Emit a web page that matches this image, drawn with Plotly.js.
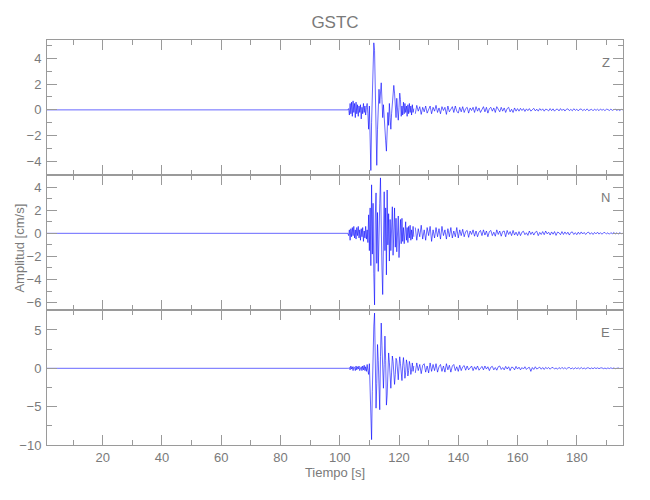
<!DOCTYPE html>
<html>
<head>
<meta charset="utf-8">
<script src="https://cdn.plot.ly/plotly-3.0.1.min.js"></script>
<style>html,body{margin:0;padding:0;background:#fff}#chart{width:650px;height:500px}</style>
</head>
<body>
<div id="chart"></div>
<script>
// ---- data ----
const title = "GSTC";
const components = ["Z", "N", "E"];
const timeStart = 1.2;      // s, first sample
const timeEnd = 195.6;      // s, last sample
const preEventTimes = [1.2, 102.5];
const preEventValues = [0, 0];

// strong-motion part: sampled every 0.25 s from 102.5 s to 125 s
const burstStart = 102.5, burstStep = 0.25;
const burstZ = [
 0,0,0.1,-0.4,0.5,-0.3,0.6,-0.5,0.7,-0.2,
 0.5,-0.6,0.6,-0.3,0.4,-0.5,0.3,-0.2,0.4,-0.7,
 0.2,-0.3,0.5,-0.2,0.3,-0.4,0.2,0.5,-0.3,-1.5,
 0.3,-2.5,-4.7,-1.0,1.5,3.8,5.2,4.6,1.0,-2.5,
 -4.3,-1.5,0.8,1.6,0.5,1.8,2.1,0.8,-0.6,0.4,
 -0.9,-1.8,-2.4,-3.2,-1.3,-0.2,-1.2,0.5,-0.6,-1.5,
 -0.3,0.4,1.2,1.9,1.3,0.2,-0.6,0.9,0.1,-0.8,
 0.2,1.3,0.8,-0.5,0.3,-0.4,0.6,-0.3,0.5,-0.2,
 0.3,-0.5,0.4,-0.3,0.5,-0.2,0.3,-0.4,0.4,-0.2,
 0.1];
const burstN = [
 0,0,-0.2,0.3,-0.6,0.4,-0.3,0.5,-0.2,0.6,
 -0.4,0.3,-0.5,0.5,-0.2,0.6,-0.4,0.3,-0.6,0.4,
 -0.3,0.5,-0.7,0.2,-0.4,0.6,-0.5,0.3,-0.8,1.6,
 -1.5,2.2,-2.8,4.2,-1.8,2.6,-3.5,-6.2,1.5,3.5,
 -2.6,1.8,-3.3,0.8,2.6,4.8,-1.2,-3.0,-5.3,1.0,
 3.6,-1.5,2.2,-3.6,3.75,-1.0,1.7,-2.4,1.2,-1.5,
 0.8,2.3,-1.9,0.9,2.2,-1.2,1.3,-1.6,0.6,1.5,
 -2.1,0.7,1.2,-0.9,1.3,-0.7,0.5,-0.9,0.4,1.0,
 -0.6,0.5,-0.8,0.6,-0.4,0.7,-0.6,0.3,-0.5,0.6,
 -0.3];
const burstE = [
 0,0,0,0.1,-0.2,0.3,-0.1,0.2,-0.3,0.2,
 0.1,-0.3,0.3,-0.2,0.2,-0.1,0.3,-0.3,0.1,0.2,
 -0.3,0.3,-0.2,0.4,-0.3,0.2,-0.4,0.5,-0.3,-0.8,
 0.6,-2.5,-6.0,-9.3,-3.0,2.5,5.5,7.2,1.0,-5.2,
 -2.0,3.1,1.0,-3.9,-5.4,1.5,5.9,3.0,-1.0,-2.6,
 0.5,4.2,1.0,-4.8,-3.5,0.5,2.0,0.8,-1.5,-2.6,
 -0.5,1.6,0.9,-1.0,-2.1,-0.8,1.3,1.0,-0.6,-1.5,
 0.2,1.5,0.6,-0.8,-1.6,0.4,1.4,0.2,-1.3,-0.5,
 1.1,0.6,-1.0,-0.3,0.9,0.4,-0.8,-0.2,0.7,-0.4,
 0.3];

// coda: sampled every 0.5 s from 125.5 s to 195.5 s
const codaStart = 125.5, codaStep = 0.5;
const codaZ = [
 -0.3,0.35,-0.1,0.25,-0.35,0.2,-0.15,0.3,-0.25,0.1,0.3,-0.3,0.2,-0.1,0.35,-0.2,0.15,-0.3,0.25,-0.05,0.2,-0.35,0.3,-0.15,0.1,0.25,-0.2,0.3,-0.1,-0.25,
 0.2,-0.15,0.25,-0.2,0.1,0.2,-0.25,0.15,-0.05,0.2,-0.2,0.25,-0.1,0.15,-0.2,0.05,0.25,-0.15,0.2,-0.25,
 0.1,0.2,-0.1,0.15,-0.2,0.25,0.05,-0.15,0.2,-0.1,0.15,-0.2,0.1,0.2,-0.15,0.05,-0.2,0.15,-0.1,0.1,
 -0.1,0.12,-0.05,0.1,-0.12,0.08,-0.06,0.1,-0.1,0.05,0.12,-0.08,0.06,-0.1,0.1,-0.04,0.08,-0.1,0.06,0.02,
 -0.08,0.1,-0.06,0.08,-0.1,0.04,0.06,-0.08,0.1,-0.05,0.07,-0.09,0.05,0.08,-0.06,0.04,-0.07,0.09,-0.04,0.06,
 -0.08,0.05,0.07,-0.06,0.04,-0.05,0.08,-0.06,0.03,0.05,-0.07,0.06,-0.04,0.05,-0.06,0.07,-0.03,0.04,-0.06,0.05,
 0.03,-0.05,0.06,-0.04,0.02,0.05,-0.04,0.03,-0.05,0.04,0.0];
const codaN = [
 0.5,-0.6,0.4,-0.3,0.7,-0.5,0.3,-0.6,0.5,-0.2,0.6,-0.7,0.3,-0.4,0.5,-0.3,0.4,-0.5,0.6,-0.2,0.3,-0.5,0.4,-0.3,0.5,-0.4,0.2,-0.3,0.5,-0.4,
 0.3,-0.2,0.35,-0.3,0.15,0.25,-0.35,0.2,-0.1,0.3,-0.25,0.2,-0.3,0.1,0.25,-0.2,0.3,-0.15,0.2,-0.3,
 0.15,0.25,-0.2,0.1,-0.25,0.3,-0.1,0.2,-0.25,0.15,0.2,-0.3,0.25,-0.1,0.15,-0.2,0.25,-0.15,0.1,-0.2,
 0.15,-0.2,0.1,0.18,-0.12,0.05,-0.18,0.2,-0.1,0.12,-0.15,0.1,0.18,-0.2,0.08,-0.1,0.15,-0.12,0.2,-0.05,
 0.1,-0.15,0.12,-0.08,0.15,-0.18,0.1,0.05,-0.12,0.15,-0.1,0.12,-0.08,0.1,-0.15,0.08,0.12,-0.1,0.06,-0.12,
 0.1,-0.08,0.12,-0.06,0.08,-0.1,0.05,0.1,-0.08,0.06,-0.1,0.08,-0.05,0.1,-0.07,0.06,-0.08,0.05,0.07,-0.06,
 0.05,-0.08,0.06,-0.04,0.07,-0.05,0.04,-0.06,0.05,-0.03,0.0];
const codaE = [
 -0.6,0.7,-0.3,0.5,-0.7,0.4,0.6,-0.5,0.3,-0.6,0.7,-0.4,0.5,-0.3,0.6,-0.5,0.2,0.5,-0.4,0.3,-0.5,0.6,-0.2,0.4,-0.5,0.3,0.5,-0.3,0.2,-0.4,
 0.4,-0.3,0.2,0.35,-0.25,0.3,-0.2,0.15,0.3,-0.3,0.2,-0.15,0.3,-0.25,0.1,0.25,-0.2,0.3,-0.1,0.2,
 -0.3,0.15,0.25,-0.2,0.1,-0.25,0.2,0.3,-0.15,0.1,-0.2,0.25,-0.1,0.2,-0.3,0.15,0.1,-0.2,0.25,-0.1,
 0.15,-0.2,0.1,-0.1,0.2,-0.15,0.05,0.12,-0.4,0.1,-0.15,0.2,-0.1,0.08,0.15,-0.12,0.1,-0.15,0.12,-0.05,
 0.1,-0.12,0.08,0.1,-0.1,0.05,-0.12,0.1,-0.08,0.12,-0.06,0.08,-0.1,0.06,0.1,-0.08,0.05,-0.1,0.08,-0.05,
 0.06,-0.08,0.1,-0.06,0.04,-0.08,0.06,0.05,-0.07,0.05,-0.06,0.08,-0.04,0.06,-0.05,0.04,0.06,-0.05,0.03,-0.06,
 0.05,-0.04,0.06,-0.03,0.04,-0.05,0.03,0.04,-0.03,0.02,0.0];

const yRanges = [[-5.05, 5.42], [-6.64, 5.05], [-10, 7.6]];
const yDticks = [2, 2, 5];
const yMinorDticks = [1, 1, 2.5];
const xTitle = "Tiempo [s]";
const yTitle = "Amplitud [cm/s]";

// ---- drawing ----
const LINE = {color: "rgb(0,0,255)", width: 0.6};
const AX = "#9a9a9a";
const TXT = "#7a7a7a";
const FONT = "'Liberation Sans', Arial, sans-serif";

const bursts = [burstZ, burstN, burstE];
const codas = [codaZ, codaN, codaE];
const traces = [];
for (let i = 0; i < 3; i++) {
  const xa = i === 0 ? "x" : "x" + (i + 1);
  const ya = i === 0 ? "y" : "y" + (i + 1);
  const common = {type: "scatter", mode: "lines", line: LINE, xaxis: xa, yaxis: ya, showlegend: false, hoverinfo: "skip"};
  traces.push(Object.assign({x: preEventTimes, y: preEventValues}, common));
  traces.push(Object.assign({x0: burstStart, dx: burstStep, y: bursts[i]}, common));
  traces.push(Object.assign({x0: codaStart, dx: codaStep, y: codas[i]}, common));
}

const domains = [[2/3, 1], [1/3, 2/3], [0, 1/3]];
const layout = {
  width: 650, height: 500,
  paper_bgcolor: "#fff", plot_bgcolor: "#fff",
  margin: {l: 47, r: 27, t: 40, b: 55},
  font: {family: FONT, color: TXT, size: 13},
  title: {text: title, x: 0.5, xref: "paper", y: 1 - 22/500, yref: "container", yanchor: "middle",
          font: {family: FONT, size: 17, color: TXT}},
  annotations: [],
  showlegend: false
};
for (let i = 0; i < 3; i++) {
  const sx = i === 0 ? "" : String(i + 1);
  const xaxis = {
    domain: [0, 1], anchor: "y" + sx, range: [timeStart, timeEnd],
    tick0: 0, dtick: 20, ticks: "inside", ticklen: 10, tickwidth: 1, tickcolor: AX,
    minor: {tick0: 0, dtick: 10, ticks: "inside", ticklen: 5, tickcolor: AX, tickwidth: 1},
    showline: true, linecolor: AX, linewidth: 1, mirror: "ticks",
    showgrid: false, zeroline: false, showticklabels: i === 2,
    tickfont: {family: FONT, size: 13, color: TXT}
  };
  if (i === 2) xaxis.title = {text: xTitle, font: {family: FONT, size: 13, color: TXT}, standoff: 0};
  const yaxis = {
    domain: domains[i], anchor: "x" + sx, range: yRanges[i],
    tick0: 0, dtick: yDticks[i], ticks: "inside", ticklen: 10, tickwidth: 1, tickcolor: AX,
    minor: {tick0: 0, dtick: yMinorDticks[i], ticks: "inside", ticklen: 5, tickcolor: AX, tickwidth: 1},
    showline: true, linecolor: AX, linewidth: 1, mirror: "ticks",
    showgrid: false, zeroline: false, tickfont: {family: FONT, size: 13, color: TXT},
    ticklabelstandoff: 2
  };
  layout["xaxis" + sx] = xaxis;
  layout["yaxis" + sx] = yaxis;
  layout.annotations.push({
    text: components[i], showarrow: false, xref: "paper", x: 0.97, xanchor: "center",
    yref: "y" + sx + " domain", y: 1 - 22/135, yanchor: "middle",
    font: {family: FONT, size: 13, color: TXT}
  });
}
layout.annotations.push({
  text: yTitle, showarrow: false, textangle: -90, xref: "paper", x: (20 - 47) / 576, xanchor: "center",
  yref: "paper", y: 0.485, yanchor: "middle", font: {family: FONT, size: 13, color: TXT}
});

Plotly.newPlot("chart", traces, layout, {staticPlot: true, displayModeBar: false});
</script>
</body>
</html>
